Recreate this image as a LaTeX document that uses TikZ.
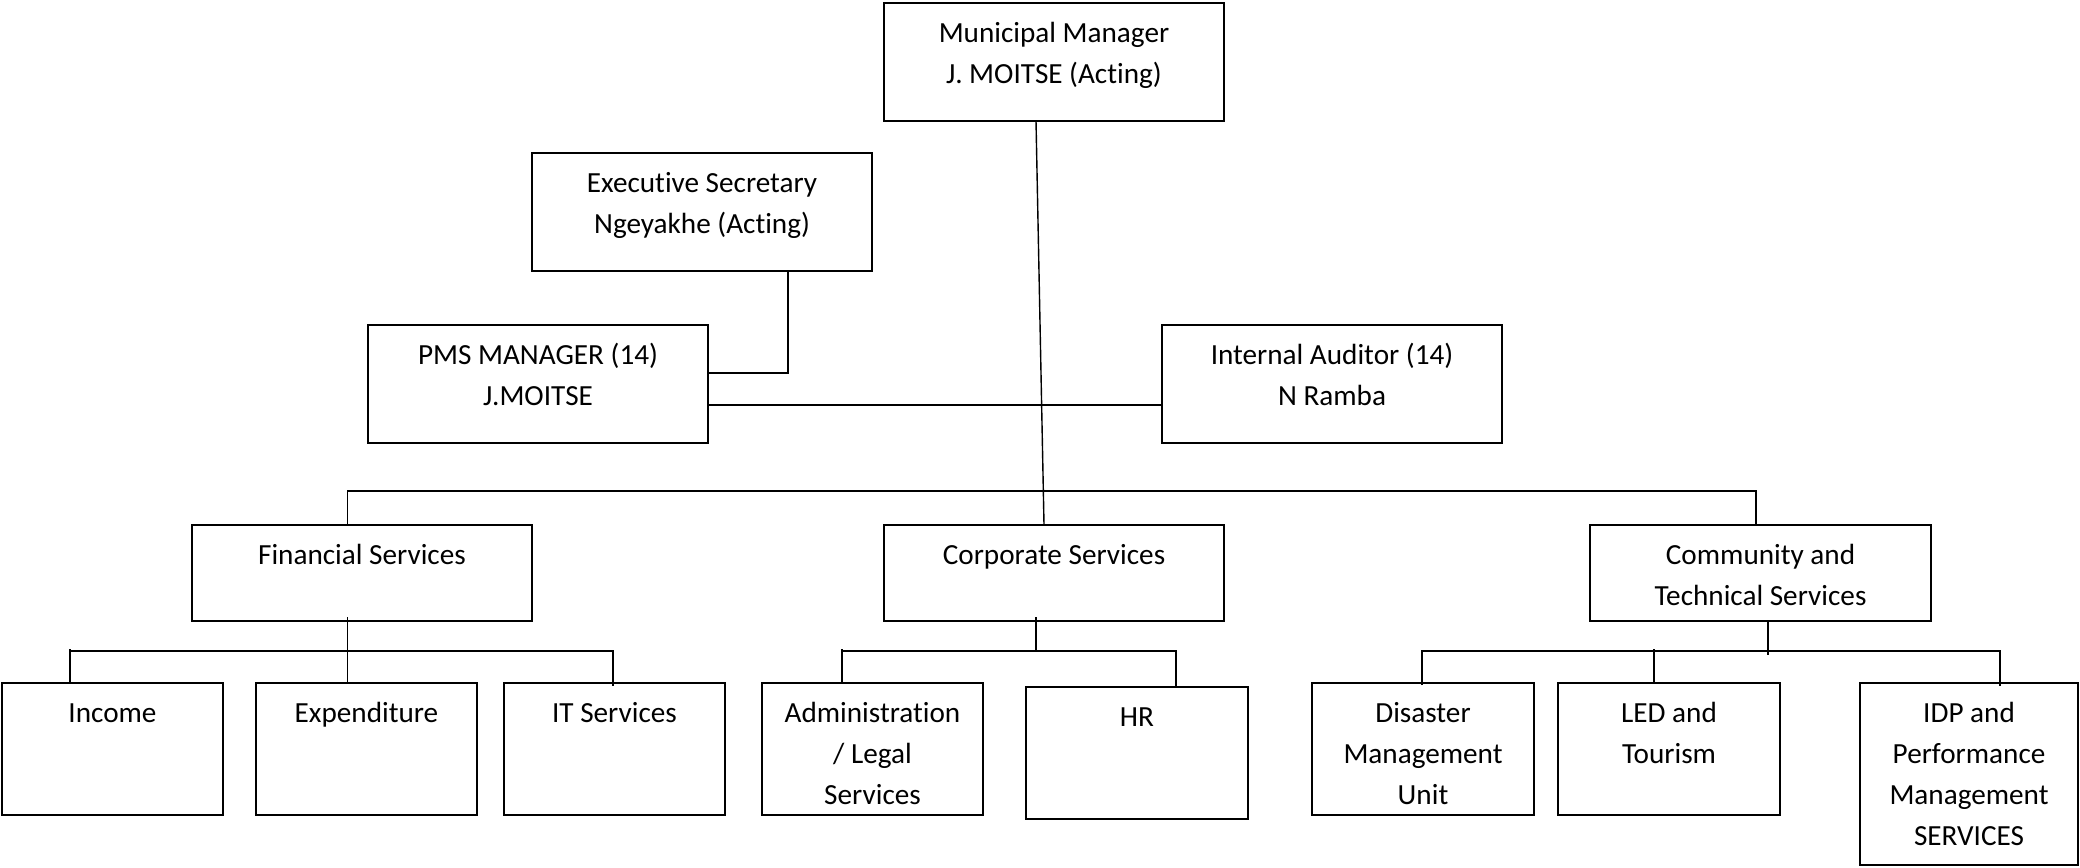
\documentclass[tikz,border=0pt]{standalone}
\usepackage{fontspec}
\setmainfont[Ligatures=NoCommon]{Carlito}
\usetikzlibrary{calc}

% Organisational box: name, left, top, right, bottom (pixel grid), text lines
\newcommand\orgbox[6]{%
  \node[boxst, anchor=north west,
        minimum width={(#4-#2)*0.5pt}, minimum height={(#5-#3)*0.5pt}] (#1) at (#2,#3) {};
  \node[txt] (#1-txt) at ($(#1.north)+(0,39)$)
    {\begin{tabular}[t]{@{}c@{}}#6\end{tabular}};
}

\begin{document}
\begin{tikzpicture}[x=0.5pt, y=-0.5pt,
  boxst/.style={draw, line width=0.8pt, inner sep=0pt, outer sep=0pt},
  txt/.style={anchor=base, inner sep=0pt, font=\fontsize{14.6}{20.5}\selectfont},
  link/.style={draw, line width=0.7pt}]

\useasboundingbox (0,0) rectangle (2080,867);

% management
\orgbox{mm}{884}{3}{1224}{121}{Municipal Manager\\J. MOITSE (Acting)}
\orgbox{es}{532}{153}{872}{271}{Executive Secretary\\Ngeyakhe (Acting)}
\orgbox{pms}{368}{325}{708}{443}{PMS MANAGER (14)\\J.MOITSE}
\orgbox{ia}{1162}{325}{1502}{443}{Internal Auditor (14)\\N Ramba}

% departments
\orgbox{fin}{192}{525}{532}{621}{Financial Services}
\orgbox{corp}{884}{525}{1224}{621}{Corporate Services}
\orgbox{comm}{1590}{525}{1931}{621}{Community and\\Technical Services}

% units
\orgbox{inc}{2}{683}{223}{815}{Income}
\orgbox{exp}{256}{683}{477}{815}{Expenditure}
\orgbox{its}{504}{683}{725}{815}{IT Services}
\orgbox{adm}{762}{683}{983}{815}{Administration\\/ Legal\\Services}
\orgbox{hr}{1026}{687}{1248}{819}{HR}
\orgbox{dis}{1312}{683}{1534}{815}{Disaster\\Management\\Unit}
\orgbox{led}{1558}{683}{1780}{815}{LED and\\Tourism}
\orgbox{idp}{1860}{683}{2078}{865}{IDP and\\Performance\\Management\\SERVICES}

% manager down to corporate services
\path[link] ($(mm.south)+(-18,0)$) -- ($(corp.north)+(-10,0)$);

% executive secretary to PMS manager
\path[link] ($(es.south)+(86,0)$) |- ($(pms.east)+(0,-11)$);

% PMS manager to internal auditor
\path[link] ($(pms.east)+(0,21)$) -- ($(ia.west)+(0,21)$);

% department bus
\path[link] ($(fin.north)+(-14.5,0)$) -- ++(0,-34) -| ($(comm.north)+(-4.5,0)$);

% financial services units
\path[link] ($(fin.south)+(-14.5,-4)$) -- ($(exp.north)+(-19,0)$);
\path[link] ($(inc.north)+(-42.5,-34)$) -- ($(inc.north)+(-42.5,0)$);
\path[link] ($(inc.north)+(-42.5,-32)$) -| ($(its.north)+(-1.5,3)$);

% corporate services units
\path[link] ($(corp.south)+(-18,-4)$) -- ++(0,34);
\path[link] ($(adm.north)+(-30.5,-34)$) -- ($(adm.north)+(-30.5,0)$);
\path[link] ($(adm.north)+(-30.5,-32)$) -| ($(hr.north)+(39,0)$);

% community and technical services units
\path[link] ($(comm.south)+(7.5,0)$) -- ++(0,34);
\path[link] ($(dis.north)+(-1,2)$) |- ($(idp.north)+(31,-32)$) -- ($(idp.north)+(31,3)$);
\path[link] ($(led.north)+(-15,-34)$) -- ($(led.north)+(-15,0)$);

\end{tikzpicture}
\end{document}
